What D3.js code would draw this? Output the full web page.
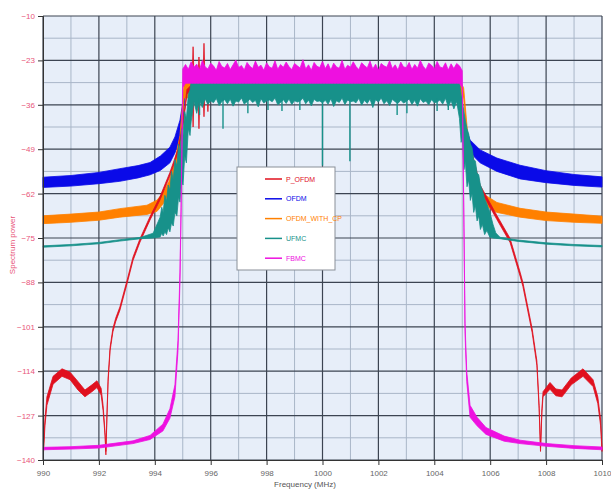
<!DOCTYPE html>
<html>
<head>
<meta charset="utf-8">
<script src="https://cdn.jsdelivr.net/npm/d3@7"></script>
<style>
  body { margin: 0; background: #fff; }
  svg { font-family: "Liberation Sans", Arial, sans-serif; }
</style>
</head>
<body>
<div id="chart"></div>
<script>
// tick labels
const xTicks = [990, 992, 994, 996, 998, 1000, 1002, 1004, 1006, 1008, 1010];
const yTicks = [-10, -23, -36, -49, -62, -75, -88, -101, -114, -127, -140];

// each point: [frequency MHz, upper envelope dB, lower envelope dB]
const ofdm = [
  [990.0, -57.2, -60.2], [991.0, -56.7, -59.8], [992.0, -55.8, -59.1], [992.75, -54.7, -58.4],
  [993.4, -53.8, -57.4], [993.83, -52.9, -56.5], [994.2, -51.0, -55.2], [994.54, -48.4, -53.0],
  [994.72, -45.4, -50.1], [994.9, -40.5, -46.0], [995.0, -35.5, -41.0], [995.08, -30.0, -33.5],
  [1000.0, -30.0, -33.5], [1004.95, -30.0, -33.5], [1005.0, -36.0, -42.0], [1005.1, -42.0, -47.0],
  [1005.28, -46.3, -50.0], [1005.64, -49.2, -53.0], [1006.24, -51.6, -55.5], [1007.07, -53.7, -57.7],
  [1008.0, -55.3, -58.8], [1009.0, -56.4, -59.6], [1010.0, -57.1, -60.1]
];

const ofdmCp = [
  [990.0, -68.5, -70.8], [991.0, -68.0, -70.4], [992.0, -67.4, -69.8], [992.75, -66.4, -68.9],
  [993.72, -65.4, -68.1], [994.08, -63.9, -67.2], [994.29, -61.8, -65.1], [994.5, -58.5, -62.0],
  [994.7, -53.0, -57.5], [994.9, -45.0, -50.0], [995.05, -29.5, -34.0], [1000.0, -29.5, -33.5],
  [1004.95, -29.5, -33.5], [1005.05, -31.0, -34.0], [1005.2, -45.0, -50.0], [1005.4, -53.0, -57.5],
  [1005.64, -61.5, -64.6], [1006.24, -64.6, -67.5], [1007.07, -66.3, -68.9], [1008.0, -67.4, -69.9],
  [1009.0, -68.0, -70.4], [1010.0, -68.6, -70.7]
];

const pOfdm = [
  [990.02, -136.0, -137.5], [990.07, -128.0, -130.0], [990.14, -121.5, -124.0], [990.36, -115.5, -117.8],
  [990.68, -113.3, -115.5], [990.97, -114.3, -116.5], [991.25, -117.0, -119.5], [991.5, -119.5, -121.5],
  [991.75, -118.0, -120.0], [991.93, -116.8, -118.8], [992.08, -119.0, -121.0], [992.15, -124.0, -125.5],
  [992.22, -132.0, -133.0], [992.25, -137.5, -138.5], [992.29, -126.0, -127.0], [992.33, -116.0, -117.0],
  [992.4, -107.0, -108.0], [992.5, -101.5, -102.5], [992.6, -98.5, -99.5], [992.75, -95.2, -96.2],
  [993.01, -87.3, -88.3], [993.22, -80.6, -81.6], [993.47, -75.2, -76.2], [993.83, -68.7, -69.7],
  [994.19, -62.8, -63.8], [994.54, -55.8, -56.8], [994.83, -49.0, -50.0], [995.01, -41.2, -42.2],
  [995.15, -31.5, -33.0], [995.33, -30.0, -31.0], [995.37, -19.0, -42.5], [995.41, -30.0, -31.0],
  [995.54, -30.0, -31.0], [995.58, -22.0, -43.0], [995.62, -30.0, -31.0], [995.72, -30.0, -31.0],
  [995.76, -18.0, -39.5], [995.8, -30.0, -31.0], [995.86, -30.0, -31.0], [995.9, -27.0, -38.0],
  [995.94, -30.0, -31.0], [1000.0, -30.0, -31.0], [1004.74, -30.5, -32.0], [1004.85, -33.7, -35.0],
  [1005.1, -42.0, -43.3], [1005.28, -47.8, -49.0], [1005.64, -59.5, -60.8], [1006.24, -68.4, -69.6],
  [1006.71, -75.1, -76.3], [1007.07, -85.0, -86.2], [1007.17, -88.0, -89.2], [1007.5, -101.5, -102.7],
  [1007.67, -111.0, -112.3], [1007.75, -124.0, -125.0], [1007.8, -136.5, -137.5], [1007.85, -125.0, -126.0],
  [1007.89, -120.0, -121.5], [1008.14, -117.3, -119.3], [1008.35, -119.2, -121.2], [1008.57, -119.5, -121.5],
  [1008.9, -116.0, -118.0], [1009.32, -113.3, -115.5], [1009.68, -116.5, -118.5], [1009.85, -121.5, -123.5],
  [1009.95, -128.0, -130.0], [1010.0, -136.5, -137.5]
];

// UFMC out of band, left and right of the in-band part
const ufmcLeft = [
  [990.0, -77.3, -77.7], [991.0, -76.9, -77.3], [992.0, -76.3, -76.7], [992.75, -75.5, -75.9],
  [993.5, -74.8, -75.2], [993.94, -73.6, -75.0], [994.19, -68.9, -74.7], [994.25, -66.0, -73.6],
  [994.3, -67.5, -74.4], [994.36, -62.5, -73.2], [994.42, -64.0, -74.0], [994.48, -59.5, -72.0],
  [994.54, -61.0, -73.2], [994.6, -55.5, -70.5], [994.66, -58.0, -71.5], [994.72, -52.0, -67.5],
  [994.79, -54.0, -68.5], [994.85, -47.5, -63.0], [994.9, -50.0, -64.5], [994.96, -43.0, -58.0],
  [995.01, -45.0, -59.5], [995.07, -38.0, -51.0], [995.13, -40.0, -53.0], [995.2, -33.0, -43.0],
  [995.26, -31.7, -45.0]
];
const ufmcRight = [
  [1004.9, -29.0, -40.0], [1004.96, -33.0, -47.0], [1005.01, -35.5, -45.0], [1005.06, -38.0, -55.0],
  [1005.11, -40.5, -52.5], [1005.17, -43.0, -60.0], [1005.23, -44.5, -58.0], [1005.29, -47.5, -64.0],
  [1005.35, -48.5, -62.0], [1005.41, -52.0, -67.5], [1005.47, -52.5, -65.5], [1005.53, -56.0, -70.0],
  [1005.59, -56.5, -68.5], [1005.65, -59.5, -72.5], [1005.72, -61.0, -71.0], [1005.8, -63.5, -74.0],
  [1005.88, -65.0, -72.8], [1005.99, -67.5, -74.8], [1006.1, -71.0, -75.0], [1006.2, -73.5, -75.1],
  [1006.35, -74.8, -75.2], [1007.0, -75.6, -76.0], [1008.0, -76.4, -76.8], [1009.0, -76.9, -77.3],
  [1010.0, -77.2, -77.6]
];

// FBMC out of band
const fbmcLeft = [
  [990.0, -136.3, -137.0], [991.0, -136.1, -136.8], [992.0, -135.7, -136.5], [993.22, -134.4, -135.2],
  [993.83, -132.8, -134.0], [994.29, -129.5, -131.5], [994.54, -125.0, -127.8], [994.72, -118.0, -121.5],
  [994.83, -104.9, -108.0], [994.9, -85.0, -88.0], [994.94, -66.0, -68.0], [994.97, -48.0, -50.0],
  [995.0, -25.5, -31.0]
];
const fbmcRight = [
  [1005.0, -26.0, -31.0], [1005.03, -48.0, -50.0], [1005.06, -70.0, -72.0], [1005.1, -100.0, -103.0],
  [1005.16, -114.0, -117.0], [1005.28, -124.0, -127.5], [1005.53, -127.5, -130.0], [1005.85, -130.5, -132.5],
  [1006.5, -133.0, -134.5], [1007.07, -134.2, -135.2], [1008.03, -135.2, -136.0], [1009.0, -135.8, -136.6],
  [1010.0, -136.2, -137.0]
];

// in-band noise, one value every 0.1 MHz from 995.1 to 1004.9 MHz
const bandFreq = d3.range(99).map(i => +(995.1 + i * 0.1).toFixed(1));
const fbmcBandTop = [
  -24.2, -25.6, -23.4, -25.0, -24.1, -25.8, -23.0, -24.9, -25.5, -23.8,
  -24.6, -25.9, -23.3, -24.8, -25.2, -23.9, -25.7, -24.3, -22.9, -25.1,
  -24.5, -25.8, -23.6, -24.7, -25.4, -23.2, -25.0, -24.4, -25.9, -23.7,
  -24.9, -25.3, -23.1, -25.6, -24.2, -25.0, -23.5, -24.8, -25.7, -23.9,
  -24.6, -25.2, -22.8, -25.5, -24.3, -25.9, -23.6, -24.7, -25.1, -23.3,
  -25.4, -24.0, -25.8, -23.8, -24.9, -25.3, -23.0, -25.6, -24.4, -25.0,
  -23.4, -24.8, -25.7, -23.7, -24.5, -25.2, -23.2, -25.5, -24.1, -25.9,
  -23.9, -24.6, -25.0, -23.1, -25.4, -24.3, -25.8, -23.5, -24.9, -25.1,
  -23.6, -25.6, -24.2, -25.3, -23.0, -24.7, -25.7, -23.8, -24.4, -25.5,
  -23.3, -24.9, -25.2, -23.7, -25.8, -24.0, -25.4, -23.9, -24.6
];
const fbmcBandFloor = -29.7;
const ufmcBandTop = -29.0;
const ufmcBandBottom = [
  -40.0, -35.5, -41.0, -35.0, -38.5, -34.6, -36.8, -34.2, -35.9, -34.8,
  -35.4, -34.1, -36.2, -35.0, -34.5, -35.7, -34.3, -36.4, -34.9, -35.2,
  -34.0, -35.8, -35.1, -34.4, -35.3, -34.7, -36.6, -34.2, -35.5, -34.9,
  -34.6, -35.1, -34.0, -36.0, -35.3, -34.5, -35.6, -34.3, -35.9, -34.8,
  -35.2, -34.9, -34.1, -35.7, -34.6, -36.3, -34.4, -35.0, -34.9, -35.4,
  -34.7, -35.8, -34.2, -36.5, -34.8, -35.3, -34.0, -35.9, -34.6, -35.1,
  -34.9, -35.4, -34.1, -36.1, -34.7, -35.6, -34.3, -36.8, -34.5, -35.2,
  -34.0, -35.7, -34.8, -36.2, -34.4, -35.1, -35.6, -34.6, -35.5, -35.0,
  -34.3, -35.9, -34.7, -36.4, -34.2, -35.3, -34.9, -36.0, -34.5, -35.4,
  -35.2, -34.6, -35.8, -34.1, -36.6, -34.8, -37.2, -35.0, -38.0
];
// narrow UFMC dips below the band: [frequency MHz, depth dB]
const ufmcDips = [
  [995.6, -39.0], [996.44, -43.0], [997.33, -38.5], [998.05, -37.5], [998.55, -37.8], [999.19, -37.5],
  [1000.0, -53.8], [1000.98, -52.5], [1002.67, -39.0], [1003.02, -38.5], [1004.1, -37.8], [1004.5, -37.5]
];

const fbmc = fbmcLeft
  .concat(bandFreq.map((f, i) => [f, fbmcBandTop[i], fbmcBandFloor]))
  .concat(fbmcRight);
const ufmc = ufmcLeft
  .concat(bandFreq.slice(2, -1).map((f, i) => [f, ufmcBandTop, ufmcBandBottom[i + 2]]))
  .concat(ufmcRight);

// draw order follows the picture: FBMC on top
const seriesNames = ["OFDM", "OFDM_WITH_CP", "P_OFDM", "UFMC", "FBMC"];
const seriesData = [ofdm, ofdmCp, pOfdm, ufmc, fbmc];
const seriesColors = ["#0a0ae8", "#ff8000", "#e0101e", "#17918a", "#ee10e0"];
const legendOrder = ["P_OFDM", "OFDM", "OFDM_WITH_CP", "UFMC", "FBMC"];

const width = 611, height = 491;
const margin = { top: 16, right: 9, bottom: 31, left: 43 };

const svg = d3.select("#chart").append("svg")
  .attr("width", width)
  .attr("height", height);

const x = d3.scaleLinear().domain([990, 1010]).range([margin.left, width - margin.right]);
const y = d3.scaleLinear().domain([-10, -140]).range([margin.top, height - margin.bottom]);

// plot background
svg.append("rect")
  .attr("x", x(990)).attr("y", y(-10))
  .attr("width", x(1010) - x(990)).attr("height", y(-140) - y(-10))
  .attr("fill", "#e7eef9");

// minor grid
const xMinor = d3.range(991, 1010, 2);
const yMinor = yTicks.slice(0, -1).map(v => v - 6.5);
svg.append("g").selectAll("line").data(xMinor).join("line")
  .attr("x1", d => x(d)).attr("x2", d => x(d))
  .attr("y1", y(-10)).attr("y2", y(-140))
  .attr("stroke", "#a9b6c8").attr("stroke-width", 1);
svg.append("g").selectAll("line").data(yMinor).join("line")
  .attr("x1", x(990)).attr("x2", x(1010))
  .attr("y1", d => y(d)).attr("y2", d => y(d))
  .attr("stroke", "#a9b6c8").attr("stroke-width", 1);

// major grid
svg.append("g").selectAll("line").data(xTicks).join("line")
  .attr("x1", d => x(d)).attr("x2", d => x(d))
  .attr("y1", y(-10)).attr("y2", y(-140))
  .attr("stroke", "#3c4452").attr("stroke-width", 1.2);
svg.append("g").selectAll("line").data(yTicks).join("line")
  .attr("x1", x(990)).attr("x2", x(1010))
  .attr("y1", d => y(d)).attr("y2", d => y(d))
  .attr("stroke", "#3c4452").attr("stroke-width", 1.2);

// series as envelope bands
const band = d3.area()
  .x(d => x(d[0]))
  .y0(d => y(d[2]))
  .y1(d => y(d[1]));

seriesData.forEach((data, i) => {
  svg.append("path")
    .datum(data)
    .attr("d", band)
    .attr("fill", seriesColors[i])
    .attr("stroke", seriesColors[i])
    .attr("stroke-width", 0.8)
    .attr("stroke-linejoin", "round");
  if (seriesNames[i] === "UFMC") {
    svg.append("g").selectAll("line").data(ufmcDips).join("line")
      .attr("x1", d => x(d[0])).attr("x2", d => x(d[0]))
      .attr("y1", y(-34)).attr("y2", d => y(d[1]))
      .attr("stroke", seriesColors[i]).attr("stroke-width", 1.4);
  }
});

// axes
const yAxis = svg.append("g")
  .attr("transform", `translate(${x(990)},0)`)
  .call(d3.axisLeft(y).tickValues(yTicks).tickSize(5).tickFormat(d3.format("d")));
yAxis.selectAll("text").attr("fill", "#e8557a").attr("font-size", 8);
yAxis.selectAll("line, path").attr("stroke", "#333");

const xAxis = svg.append("g")
  .attr("transform", `translate(0,${y(-140)})`)
  .call(d3.axisBottom(x).tickValues(xTicks).tickSize(5).tickFormat(d3.format("d")));
xAxis.selectAll("text").attr("fill", "#666").attr("font-size", 8).attr("dy", "1.0em");
xAxis.selectAll("line, path").attr("stroke", "#333");

// axis titles
svg.append("text")
  .attr("x", 305).attr("y", 487)
  .attr("text-anchor", "middle")
  .attr("font-size", 8).attr("fill", "#555")
  .text("Frequency (MHz)");

svg.append("text")
  .attr("transform", "translate(15,245) rotate(-90)")
  .attr("text-anchor", "middle")
  .attr("font-size", 8).attr("fill", "#e8557a")
  .text("Spectrum power");

// legend
const legend = svg.append("g").attr("transform", "translate(237,167)");
legend.append("rect")
  .attr("width", 98).attr("height", 103)
  .attr("fill", "#fff").attr("stroke", "#8a8f98").attr("stroke-width", 1);

legendOrder.forEach((name, i) => {
  const c = seriesColors[seriesNames.indexOf(name)];
  const ly = 12 + i * 19.8;
  legend.append("line")
    .attr("x1", 28).attr("x2", 45)
    .attr("y1", ly).attr("y2", ly)
    .attr("stroke", c).attr("stroke-width", 1.5);
  legend.append("text")
    .attr("x", 49).attr("y", ly + 2.5)
    .attr("font-size", 7).attr("fill", c)
    .text(name);
});
</script>
</body>
</html>
